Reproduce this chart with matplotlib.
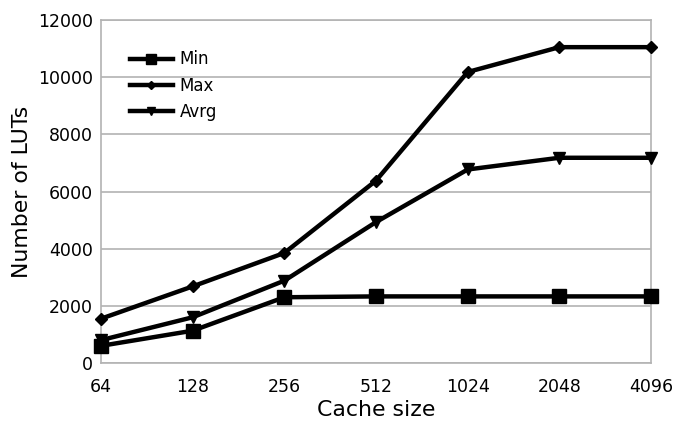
import matplotlib
matplotlib.use("Agg")
import matplotlib.pyplot as plt

cache_sizes = ["64", "128", "256", "512", "1024", "2048", "4096"]
min_luts = [600, 1130, 2300, 2330, 2330, 2330, 2330]
max_luts = [1550, 2680, 3850, 6380, 10180, 11050, 11050]
avg_luts = [800, 1600, 2880, 4930, 6770, 7180, 7180]

fig = plt.figure(figsize=(6.73, 4.22), dpi=100)
ax = fig.add_axes([101 / 673, 1 - 363 / 422, 550 / 673, 343 / 422])

x = range(len(cache_sizes))
ax.plot(x, min_luts, color="black", lw=3.2, marker="s", ms=10, label="Min", clip_on=False, zorder=3)
ax.plot(x, max_luts, color="black", lw=3.2, marker="D", ms=6, label="Max", clip_on=False, zorder=3)
ax.plot(x, avg_luts, color="black", lw=3.2, marker="v", ms=8, label="Avrg", clip_on=False, zorder=3)

ax.set_xlim(0, len(cache_sizes) - 1)
ax.set_ylim(0, 12000)
ax.set_yticks(range(0, 12001, 2000))
ax.set_xticks(list(x))
ax.set_xticklabels(cache_sizes)
ax.tick_params(length=0, labelsize=12.5, pad=6)
ax.tick_params(axis="x", pad=11)
ax.yaxis.grid(True, color="#b3b3b3", lw=1.2)
ax.set_axisbelow(True)
for s in ax.spines.values():
    s.set_color("#b3b3b3")
    s.set_linewidth(1.2)

ax.set_xlabel("Cache size", fontsize=15.8, labelpad=3)
ax.set_ylabel("Number of LUTs", fontsize=15.8, labelpad=4)

leg = ax.legend(loc="upper left", bbox_to_anchor=(0.025, 0.955), frameon=False,
                fontsize=12, handlelength=2.6, handletextpad=0.4, labelspacing=0.5, markerscale=0.7)

fig.savefig("out.png", dpi=100)
